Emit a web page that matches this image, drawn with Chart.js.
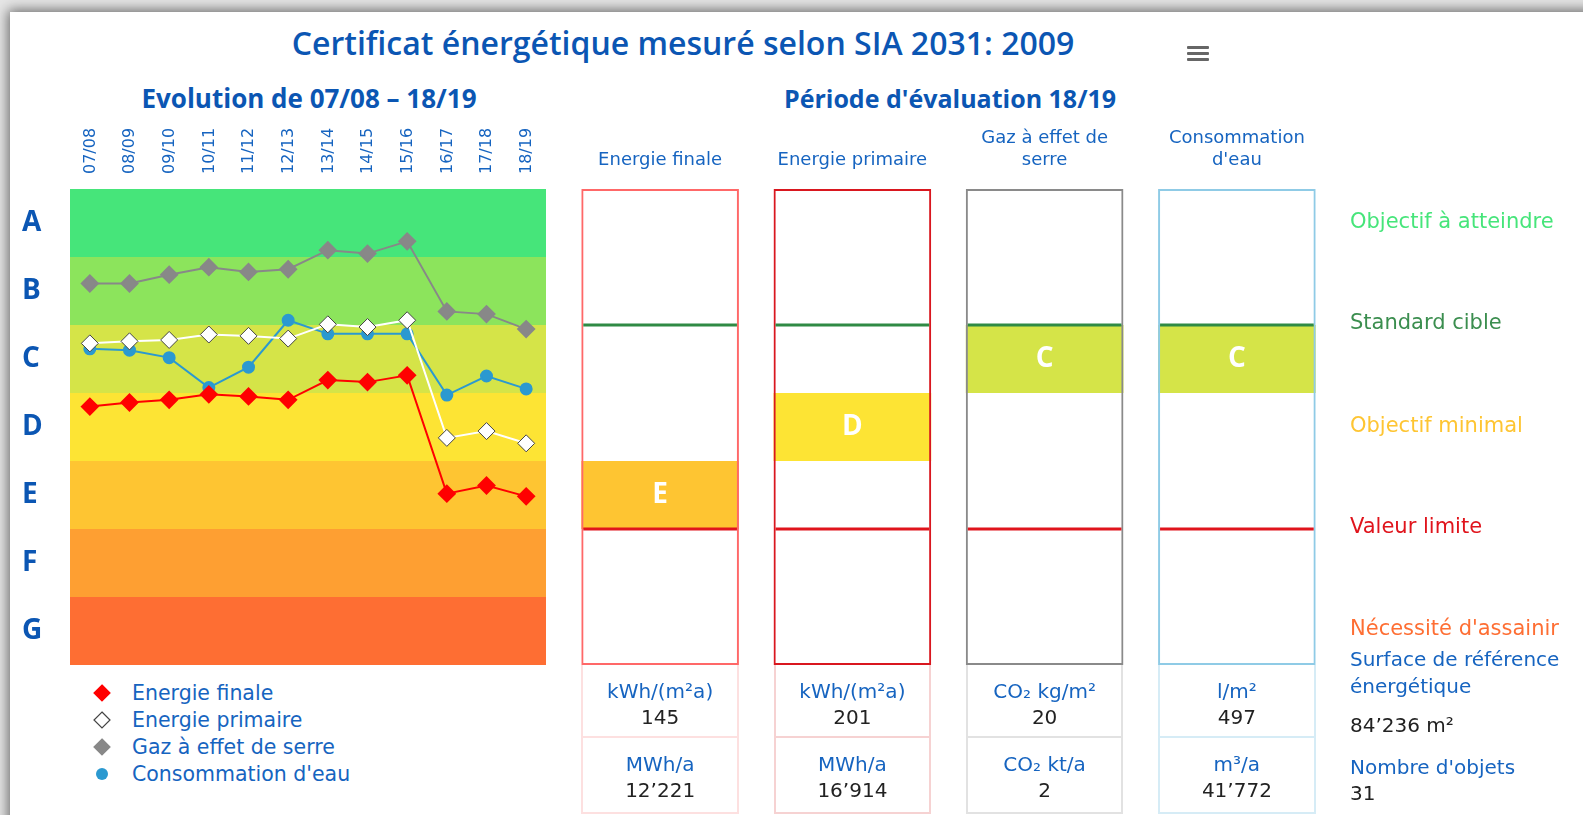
<!DOCTYPE html>
<html lang="fr">
<head>
<meta charset="utf-8">
<title>Certificat énergétique</title>
<script src="https://cdn.jsdelivr.net/npm/chart.js@4.4.1/dist/chart.umd.min.js"></script>
<style>
html, body { margin: 0; padding: 0; width: 1583px; height: 815px; overflow: hidden; background: #e6e6e6; font-family: "DejaVu Sans", sans-serif; }
#frame { position: absolute; left: 10px; top: 12px; width: 1620px; height: 850px; background: #fff; box-shadow: 0 0 12px 2px rgba(0,0,0,0.55); }
.t { position: absolute; white-space: nowrap; }
.c { transform: translate(-50%, -50%); text-align: center; }
.m { transform: translateY(-50%); }
.title { font-family: "Open Sans", sans-serif; font-weight: 600; color: #0b56b3; }
.blue { color: #1664c0; }
canvas { position: absolute; }
.cell { position: absolute; box-sizing: border-box; border-style: solid; border-width: 0 2px 2px 2px; font-size: 20px; text-align: center; }
.cell .u { color: #1664c0; margin-top: 13px; line-height: 26px; }
.cell .v { color: #222; line-height: 26px; }
.burger { position: absolute; left: 1187px; width: 22px; height: 3px; background: #666; border-radius: 1px; }
</style>
</head>
<body>
<div id="frame"></div>

<div class="t c title" style="left:683px; top:42px; font-size:32px;">Certificat énergétique mesuré selon SIA 2031: 2009</div>
<div class="burger" style="top:46px"></div>
<div class="burger" style="top:52px"></div>
<div class="burger" style="top:58px"></div>

<div class="t c title" style="left:309px; top:98px; font-size:26px; font-weight:700;">Evolution de 07/08 – 18/19</div>
<div class="t c title" style="left:950px; top:98px; font-size:25px; font-weight:700;">Période d'évaluation 18/19</div>

<canvas id="evo" width="560" height="580" style="left:0px; top:100px; width:560px; height:580px;"></canvas>
<canvas id="periode" width="1043" height="580" style="left:540px; top:100px; width:1043px; height:580px;"></canvas>

<div id="legend"></div>
<div id="cells"></div>

<div class="t m blue" style="left:1350px; top:659px; font-size:20px;">Surface de référence</div>
<div class="t m blue" style="left:1350px; top:686px; font-size:20px;">énergétique</div>
<div class="t m" style="left:1350px; top:725px; font-size:20px; color:#222;">84’236 m²</div>
<div class="t m blue" style="left:1350px; top:767px; font-size:20px;">Nombre d'objets</div>
<div class="t m" style="left:1350px; top:793px; font-size:20px; color:#222;">31</div>

<script>
// ---- données ----
const seasons = ['07/08', '08/09', '09/10', '10/11', '11/12', '12/13', '13/14', '14/15', '15/16', '16/17', '17/18', '18/19'];

// échelle des classes : 0 = bas de G, 7 = haut de A
const classLetters = ['G', 'F', 'E', 'D', 'C', 'B', 'A'];
const bandColors = ['#fe6e33', '#fe9f32', '#fec532', '#fde434', '#d5e448', '#8ce45c', '#46e57a'];

const energieFinale   = [3.80, 3.86, 3.90, 3.98, 3.95, 3.90, 4.19, 4.16, 4.26, 2.52, 2.64, 2.48];
const energiePrimaire = [4.73, 4.76, 4.78, 4.86, 4.84, 4.80, 5.01, 4.97, 5.07, 3.34, 3.44, 3.26];
const gazEffetSerre   = [5.61, 5.61, 5.74, 5.85, 5.78, 5.82, 6.10, 6.05, 6.23, 5.20, 5.16, 4.94];
const consoEau        = [4.65, 4.63, 4.52, 4.08, 4.38, 5.07, 4.87, 4.87, 4.87, 3.97, 4.25, 4.06];

const indicators = [['Energie finale'], ['Energie primaire'], ['Gaz à effet de', 'serre'], ['Consommation', "d'eau"]];
const indicatorClass = ['E', 'D', 'C', 'C'];
const frameColors = ['#ff6868', '#d9171f', '#8a8a8a', '#8fcbe6'];
const cellColors = ['#fde0e0', '#f6d2d2', '#e2e2e2', '#d6ecf6'];

const unitsArea   = ['kWh/(m²a)', 'kWh/(m²a)', 'CO₂ kg/m²', 'l/m²'];
const valuesArea  = ['145', '201', '20', '497'];
const unitsTotal  = ['MWh/a', 'MWh/a', 'CO₂ kt/a', 'm³/a'];
const valuesTotal = ['12’221', '16’914', '2', '41’772'];

const thresholdLabels = ['Objectif à atteindre', 'Standard cible', 'Objectif minimal', 'Valeur limite', "Nécessité d'assainir"];
const thresholdTicks = [6.5, 5.02, 3.5, 2.02, 0.52];
const thresholdColors = ['#46e57a', '#3b8e4f', '#fec532', '#e0141c', '#fe6e33'];

const standardCible = 5;   // limite B / C
const valeurLimite = 2;    // limite E / F

Chart.defaults.font.family = '"DejaVu Sans", sans-serif';

// bandes colorées A..G derrière les courbes
const bandsPlugin = {
    id: 'bands',
    beforeDatasetsDraw(chart) {
        const { ctx, chartArea: a, scales: { y } } = chart;
        ctx.save();
        bandColors.forEach((c, i) => {
            const top = y.getPixelForValue(i + 1);
            const bot = y.getPixelForValue(i);
            ctx.fillStyle = c;
            ctx.fillRect(a.left, top, a.right - a.left, bot - top);
        });
        ctx.restore();
    }
};

const evoChart = new Chart(document.getElementById('evo'), {
    type: 'line',
    data: {
        labels: seasons,
        datasets: [
            { label: 'Energie finale', data: energieFinale, borderColor: '#ff0000', backgroundColor: '#ff0000',
              pointStyle: 'rectRot', pointRadius: 8, pointBorderColor: '#ff0000', borderWidth: 2 },
            { label: 'Energie primaire', data: energiePrimaire, borderColor: '#ffffff', backgroundColor: '#ffffff',
              pointStyle: 'rectRot', pointRadius: 8.5, pointBorderColor: '#444444', pointBorderWidth: 1, borderWidth: 2 },
            { label: 'Gaz à effet de serre', data: gazEffetSerre, borderColor: '#888888', backgroundColor: '#888888',
              pointStyle: 'rectRot', pointRadius: 8, pointBorderColor: '#888888', borderWidth: 2 },
            { label: "Consommation d'eau", data: consoEau, borderColor: '#2b99d0', backgroundColor: '#2b99d0',
              pointStyle: 'circle', pointRadius: 5.5, pointBorderColor: '#2b99d0', borderWidth: 2 }
        ]
    },
    options: {
        responsive: false,
        animation: false,
        layout: { padding: { left: 22, right: 14, top: 0, bottom: 15 } },
        plugins: { legend: { display: false }, tooltip: { enabled: false } },
        scales: {
            x: {
                position: 'top',
                offset: true,
                grid: { display: false, drawTicks: false },
                border: { display: false },
                ticks: { autoSkip: false, minRotation: 90, maxRotation: 90, padding: 15, labelOffset: 20,
                         color: '#1664c0', font: { size: 16 } },
                afterFit(s) { s.height = 89; s.paddingLeft = 0; s.paddingRight = 0; }
            },
            y: {
                min: 0, max: 7,
                grid: { display: false, drawTicks: false },
                border: { display: false },
                afterBuildTicks(s) { s.ticks = classLetters.map((l, i) => ({ value: i + 0.5 })); },
                ticks: {
                    callback: (v, i) => classLetters[i],
                    crossAlign: 'far',
                    padding: 0,
                    color: '#0b56b3',
                    font: { family: '"Open Sans", sans-serif', size: 28, weight: 'bold' }
                },
                afterFit(s) { s.width = 48; s.paddingTop = 0; s.paddingBottom = 0; }
            }
        }
    },
    plugins: [bandsPlugin]
});

// légende en html, symboles repris des séries
const legend = document.getElementById('legend');
evoChart.data.datasets.forEach((ds, i) => {
    const y = 693 + i * 27;
    let shape;
    if (ds.pointStyle === 'circle') {
        shape = `<circle cx="9" cy="9" r="6" fill="${ds.backgroundColor}"/>`;
    } else {
        shape = `<polygon points="9,1 17,9 9,17 1,9" fill="${ds.backgroundColor}" stroke="${ds.pointBorderColor}" stroke-width="1.2"/>`;
    }
    legend.insertAdjacentHTML('beforeend',
        `<svg width="18" height="18" style="position:absolute; left:93px; top:${y - 9}px">${shape}</svg>` +
        `<div class="t m blue" style="left:132px; top:${y}px; font-size:20.5px;">${ds.label}</div>`);
});

// lignes seuils + lettres dans les cases
const periodPlugin = {
    id: 'periodMarks',
    afterDatasetsDraw(chart) {
        const { ctx, scales: { y } } = chart;
        const frames = chart.getDatasetMeta(0).data;
        const fills = chart.getDatasetMeta(1).data;
        ctx.save();
        ctx.lineWidth = 3;
        frames.forEach(bar => {
            const x0 = bar.x - bar.width / 2 + 2;
            const x1 = bar.x + bar.width / 2 - 2;
            [[standardCible, '#2f8a44'], [valeurLimite, '#e0141c']].forEach(([v, col]) => {
                const py = y.getPixelForValue(v);
                ctx.strokeStyle = col;
                ctx.beginPath();
                ctx.moveTo(x0, py);
                ctx.lineTo(x1, py);
                ctx.stroke();
            });
        });
        ctx.fillStyle = '#ffffff';
        ctx.font = 'bold 28px "Open Sans", sans-serif';
        ctx.textAlign = 'center';
        ctx.textBaseline = 'middle';
        fills.forEach((bar, i) => {
            ctx.fillText(indicatorClass[i], bar.x, (bar.y + bar.base) / 2);
        });
        ctx.restore();
    }
};

const periodChart = new Chart(document.getElementById('periode'), {
    type: 'bar',
    data: {
        labels: indicators,
        datasets: [
            { label: 'cadre', data: indicators.map(() => [0, 7]), backgroundColor: 'rgba(0,0,0,0)',
              borderColor: frameColors, borderWidth: 2, borderSkipped: false, grouped: false, order: 0 },
            { label: 'classe', data: indicatorClass.map(c => { const i = classLetters.indexOf(c); return [i, i + 1]; }),
              backgroundColor: indicatorClass.map(c => bandColors[classLetters.indexOf(c)]),
              borderWidth: 0, grouped: false, order: 1 }
        ]
    },
    options: {
        responsive: false,
        animation: false,
        barPercentage: 0.82,
        categoryPercentage: 1,
        layout: { padding: { left: 24, right: 0, top: 0, bottom: 15 } },
        plugins: { legend: { display: false }, tooltip: { enabled: false } },
        scales: {
            x: {
                position: 'top',
                grid: { display: false, drawTicks: false },
                border: { display: false },
                ticks: { maxRotation: 0, padding: 18, color: '#1664c0', font: { size: 18 } },
                afterFit(s) { s.height = 89; s.paddingLeft = 0; s.paddingRight = 0; }
            },
            y: {
                min: 0, max: 7,
                position: 'right',
                grid: { display: false, drawTicks: false },
                border: { display: false },
                afterBuildTicks(s) { s.ticks = thresholdTicks.map(v => ({ value: v })); },
                ticks: {
                    callback: (v, i) => thresholdLabels[i],
                    color: (c) => thresholdColors[c.index],
                    padding: 17,
                    font: { size: 21 }
                },
                afterFit(s) { s.width = 250; s.paddingTop = 0; s.paddingBottom = 0; }
            }
        }
    },
    plugins: [periodPlugin]
});

// tableau des valeurs sous chaque colonne
const cells = document.getElementById('cells');
const canvasLeft = 540;
const canvasTop = 100;
const tableTop = canvasTop + periodChart.chartArea.bottom;
periodChart.getDatasetMeta(0).data.forEach((bar, i) => {
    const left = canvasLeft + bar.x - bar.width / 2;
    const w = bar.width;
    cells.insertAdjacentHTML('beforeend',
        `<div class="cell" style="left:${left}px; top:${tableTop}px; width:${w}px; height:73px; border-color:${cellColors[i]}">` +
        `<div class="u">${unitsArea[i]}</div><div class="v">${valuesArea[i]}</div></div>` +
        `<div class="cell" style="left:${left}px; top:${tableTop + 73}px; width:${w}px; height:76px; border-color:${cellColors[i]}">` +
        `<div class="u">${unitsTotal[i]}</div><div class="v">${valuesTotal[i]}</div></div>`);
});
</script>
</body>
</html>
